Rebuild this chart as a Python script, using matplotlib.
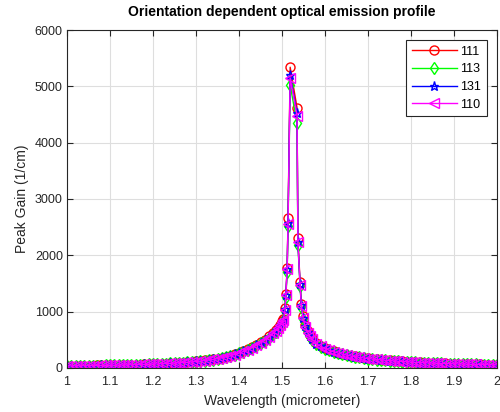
import matplotlib
matplotlib.use("Agg")
import matplotlib.pyplot as plt

plt.rcParams['font.family'] = ['Liberation Sans', 'DejaVu Sans']

# wavelength samples (micrometer)
wavelength = [
    1.00, 1.01, 1.02, 1.03, 1.04, 1.05, 1.06, 1.07, 1.08, 1.09,
    1.10, 1.11, 1.12, 1.13, 1.14, 1.15, 1.16, 1.17, 1.18, 1.19,
    1.20, 1.21, 1.22, 1.23, 1.24, 1.25, 1.26, 1.27, 1.28, 1.29,
    1.30, 1.31, 1.32, 1.33, 1.34, 1.35, 1.36, 1.37, 1.38, 1.39,
    1.40, 1.41, 1.42, 1.43, 1.44, 1.45, 1.46, 1.47, 1.48,
    1.485, 1.490, 1.495, 1.500, 1.503, 1.507, 1.509, 1.512, 1.514, 1.519,
    1.535, 1.537, 1.542, 1.545, 1.549, 1.554, 1.560, 1.565, 1.570,
    1.58, 1.59, 1.60, 1.61, 1.62, 1.63, 1.64, 1.65, 1.66, 1.67,
    1.68, 1.69, 1.70, 1.71, 1.72, 1.73, 1.74, 1.75, 1.76, 1.77,
    1.78, 1.79, 1.80, 1.81, 1.82, 1.83, 1.84, 1.85, 1.86, 1.87,
    1.88, 1.89, 1.90, 1.91, 1.92, 1.93, 1.94, 1.95, 1.96, 1.97,
    1.98, 1.99, 2.00,
]

gain_111 = [
    36, 37, 38, 39, 40, 41, 42, 43, 44, 46,
    47, 49, 50, 52, 54, 56, 58, 60, 63, 65,
    68, 71, 74, 78, 82, 86, 91, 96, 102, 108,
    115, 123, 132, 142, 154, 167, 182, 199, 219, 242,
    268, 297, 330, 367, 408, 453, 503, 560, 625,
    670, 715, 770, 830, 870, 1060, 1320, 1780, 2660, 5340,
    4620, 2300, 1530, 1140, 920, 760, 650, 580, 530,
    440, 395, 355, 322, 295, 272, 252, 234, 218, 204,
    192, 181, 171, 162, 154, 146, 139, 133, 127, 121,
    116, 111, 106, 102, 98, 94, 91, 88, 85, 82,
    79, 76, 74, 72, 70, 68, 66, 64, 62, 60,
    58, 56, 54,
]

gain_113 = [
    34, 35, 36, 37, 38, 39, 40, 41, 42, 44,
    45, 47, 48, 50, 52, 54, 56, 58, 60, 62,
    65, 68, 71, 75, 79, 83, 87, 92, 98, 104,
    110, 118, 127, 136, 148, 160, 175, 191, 210, 232,
    257, 285, 317, 352, 392, 435, 483, 538, 600,
    643, 686, 739, 797, 840, 1010, 1260, 1700, 2520, 5020,
    4350, 2180, 1450, 1080, 870, 720, 615, 550, 502,
    422, 379, 341, 310, 284, 262, 242, 225, 210, 197,
    185, 174, 165, 156, 148, 141, 134, 128, 122, 117,
    112, 107, 102, 98, 95, 91, 88, 85, 82, 79,
    76, 74, 72, 70, 68, 66, 64, 62, 60, 58,
    56, 54, 52,
]

gain_131 = [
    35, 36, 37, 38, 39, 40, 41, 42, 43, 45,
    46, 48, 49, 51, 53, 55, 57, 59, 62, 64,
    67, 70, 73, 77, 81, 85, 90, 95, 101, 107,
    114, 122, 130, 140, 152, 165, 180, 196, 216, 239,
    265, 293, 326, 362, 403, 447, 497, 553, 617,
    661, 706, 760, 820, 856, 1040, 1300, 1760, 2580, 5200,
    4520, 2230, 1490, 1110, 895, 740, 632, 565, 516,
    430, 385, 346, 314, 288, 266, 246, 229, 213, 200,
    188, 177, 167, 159, 151, 143, 136, 130, 124, 119,
    114, 109, 104, 100, 96, 92, 89, 86, 83, 80,
    78, 75, 73, 71, 69, 67, 65, 63, 61, 59,
    57, 55, 53,
]

gain_110 = [
    35, 36, 37, 38, 39, 40, 41, 42, 43, 45,
    46, 48, 49, 51, 53, 55, 57, 59, 62, 64,
    67, 70, 73, 77, 81, 85, 90, 95, 100, 106,
    113, 121, 130, 140, 151, 164, 179, 196, 215, 238,
    263, 292, 324, 360, 401, 445, 494, 550, 614,
    658, 702, 756, 816, 852, 1030, 1290, 1750, 2560, 5150,
    4480, 2230, 1480, 1100, 890, 735, 628, 562, 513,
    427, 383, 344, 312, 287, 264, 245, 228, 212, 199,
    187, 176, 166, 158, 150, 143, 136, 129, 123, 118,
    113, 108, 103, 99, 95, 92, 88, 85, 82, 80,
    77, 75, 72, 70, 68, 66, 64, 62, 60, 58,
    56, 55, 53,
]

fig = plt.figure(figsize=(5.0, 4.12), dpi=100)
ax = fig.add_axes([0.134, 0.107, 0.86, 0.82])

ax.plot(wavelength, gain_111, '-o', color='#ff0000', mfc='none', ms=6.5, lw=1, label='111')
ax.plot(wavelength, gain_113, '-d', color='#00ff00', mfc='none', ms=6.5, lw=1, label='113')
ax.plot(wavelength, gain_131, '-*', color='#0000ff', mfc='none', ms=6.5, lw=1, label='131')
ax.plot(wavelength, gain_110, '-<', color='#ff00ff', mfc='none', ms=6.5, lw=1, label='110')

ax.set_xlim(1, 2)
ax.set_ylim(0, 6000)
ax.set_xticks([1, 1.1, 1.2, 1.3, 1.4, 1.5, 1.6, 1.7, 1.8, 1.9, 2])
ax.set_xticklabels(['1', '1.1', '1.2', '1.3', '1.4', '1.5', '1.6', '1.7', '1.8', '1.9', '2'])
ax.set_yticks([0, 1000, 2000, 3000, 4000, 5000, 6000])

ax.grid(True, color='#dedede', lw=0.8)
ax.set_axisbelow(True)
ax.tick_params(direction='in', top=True, right=True, length=4, labelsize=9,
               colors='#262626')
ax.tick_params(axis='x', pad=6)
ax.tick_params(axis='y', pad=3)
for s in ax.spines.values():
    s.set_color('#262626')
    s.set_linewidth(0.8)

ax.set_xlabel('Wavelength (micrometer)', fontsize=10, color='#262626', labelpad=4)
ax.set_ylabel('Peak Gain (1/cm)', fontsize=10, color='#262626', labelpad=4)
ax.set_title('Orientation dependent optical emission profile', fontsize=10,
             fontweight='bold', pad=10)

leg = ax.legend(loc='upper right', fontsize=9, fancybox=False, framealpha=1,
                edgecolor='#262626', handlelength=3.6, borderaxespad=0.8,
                labelspacing=0.45, handletextpad=0.3, borderpad=0.45)
leg.get_frame().set_linewidth(0.8)

fig.savefig('out.png', dpi=100)
